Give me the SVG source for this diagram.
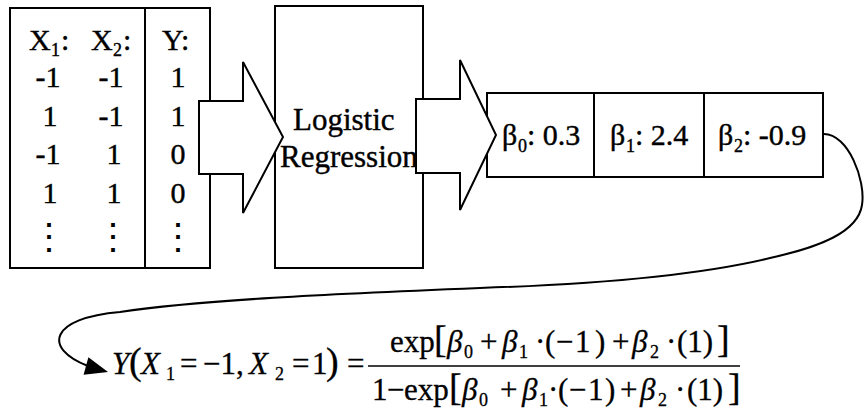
<svg xmlns="http://www.w3.org/2000/svg" width="864" height="410" viewBox="0 0 864 410">
<style>
.box{fill:#fff;stroke:#000;stroke-width:2}
.ln{fill:none;stroke:#000;stroke-width:2}
.t{font-family:"Liberation Serif","Times New Roman",serif;font-size:30px;fill:#000;stroke:#000;stroke-width:0.4}
.f{font-family:"Liberation Serif","Times New Roman",serif;font-size:31px;fill:#000;stroke:#000;stroke-width:0.3}
.i{font-style:italic}
.s{font-size:18px}
.big{font-size:38px}
.dots{font-family:"DejaVu Serif",serif;font-size:36px;fill:#000}
.mid{text-anchor:middle}
</style>
<rect width="864" height="410" fill="#fff"/>
<g id="table">
<rect class="box" x="10" y="8" width="200" height="260"/>
<line class="ln" x1="145" y1="8" x2="145" y2="268"/>
<text class="t" y="50"><tspan x="29">X</tspan><tspan class="s" x="51" y="56">1</tspan><tspan x="61" y="50">:</tspan><tspan x="91">X</tspan><tspan class="s" x="113" y="56">2</tspan><tspan x="123" y="50">:</tspan><tspan x="162">Y:</tspan></text>
<text class="t mid" y="87"><tspan x="48">-1</tspan><tspan x="111">-1</tspan><tspan x="178">1</tspan></text>
<text class="t mid" y="125.5"><tspan x="50">1</tspan><tspan x="111">-1</tspan><tspan x="178">1</tspan></text>
<text class="t mid" y="164"><tspan x="48">-1</tspan><tspan x="114">1</tspan><tspan x="178">0</tspan></text>
<text class="t mid" y="202.5"><tspan x="50">1</tspan><tspan x="114">1</tspan><tspan x="178">0</tspan></text>
<text class="dots mid" y="249"><tspan x="49">⋮</tspan><tspan x="113">⋮</tspan><tspan x="178">⋮</tspan></text>
</g>
<g id="logistic-regression">
<rect class="box" x="275" y="6" width="148" height="262"/>
<text class="t" style="font-size:31px"><tspan x="293" y="130">Logistic</tspan><tspan x="280" y="167">Regression</tspan></text>
</g>
<g id="coefficients">
<rect class="box" x="487" y="93" width="336" height="84"/>
<line class="ln" x1="594" y1="93" x2="594" y2="177"/>
<line class="ln" x1="704" y1="93" x2="704" y2="177"/>
<text class="t" y="145"><tspan x="502">β</tspan><tspan class="s" x="518" y="152">0</tspan><tspan x="527" y="145">: 0.3</tspan></text>
<text class="t" y="145"><tspan x="610">β</tspan><tspan class="s" x="626" y="152">1</tspan><tspan x="635" y="145">: 2.4</tspan></text>
<text class="t" y="145"><tspan x="718">β</tspan><tspan class="s" x="734" y="152">2</tspan><tspan x="743" y="145">: -0.9</tspan></text>
</g>
<g id="connectors">
<polygon class="box" points="199,101 243,101 243,62 283,137 243,213 243,174 199,174"/>
<polygon class="box" points="416,99 460,99 460,60 496,135 460,210 460,173 416,173"/>
<path class="ln" d="M824,134 C848,134 866,180 862,205 C858,232 820,247 770,258 C700,275 600,284 480,288 C330,294 200,300 120,312 C50,318 42,348 88,366"/>
<polygon points="108,372 83.6,374.7 88.4,357.3" fill="#000"/>
</g>
<g id="formula">
<text class="f" y="374"><tspan class="i" x="112">Y</tspan><tspan class="big" x="129">(</tspan><tspan class="i" x="141">X</tspan><tspan class="s" x="166" y="380">1</tspan><tspan x="180" y="374">=</tspan><tspan x="203">−1,</tspan><tspan class="i" x="249">X</tspan><tspan class="s" x="275" y="380">2</tspan><tspan x="292" y="374">=</tspan><tspan x="312">1</tspan><tspan class="big" x="326">)</tspan><tspan x="347">=</tspan></text>
<line x1="368" y1="366" x2="740" y2="366" stroke="#000" stroke-width="1.5"/>
<text class="f" y="352"><tspan x="390">exp</tspan><tspan class="big" x="434">[</tspan><tspan class="i" x="447">β</tspan><tspan class="s" x="464" y="358">0</tspan><tspan x="480" y="352">+</tspan><tspan class="i" x="502">β</tspan><tspan class="s" x="519" y="358">1</tspan><tspan x="535" y="352">·</tspan><tspan x="545">(</tspan><tspan x="556">−</tspan><tspan x="575">1</tspan><tspan x="595">)</tspan><tspan x="612">+</tspan><tspan class="i" x="632">β</tspan><tspan class="s" x="650" y="358">2</tspan><tspan x="666" y="352">·</tspan><tspan x="677">(1)</tspan><tspan class="big" x="717">]</tspan></text>
<text class="f" y="400"><tspan x="372">1</tspan><tspan x="387">−</tspan><tspan x="404">exp</tspan><tspan class="big" x="449">[</tspan><tspan class="i" x="462">β</tspan><tspan class="s" x="479" y="406">0</tspan><tspan x="500" y="400">+</tspan><tspan class="i" x="522">β</tspan><tspan class="s" x="539" y="406">1</tspan><tspan x="548" y="400">·</tspan><tspan x="558">(</tspan><tspan x="569">−</tspan><tspan x="588">1</tspan><tspan x="605">)</tspan><tspan x="620">+</tspan><tspan class="i" x="640">β</tspan><tspan class="s" x="658" y="406">2</tspan><tspan x="675" y="400">·</tspan><tspan x="687">(1)</tspan><tspan class="big" x="728">]</tspan></text>
</g>
</svg>
